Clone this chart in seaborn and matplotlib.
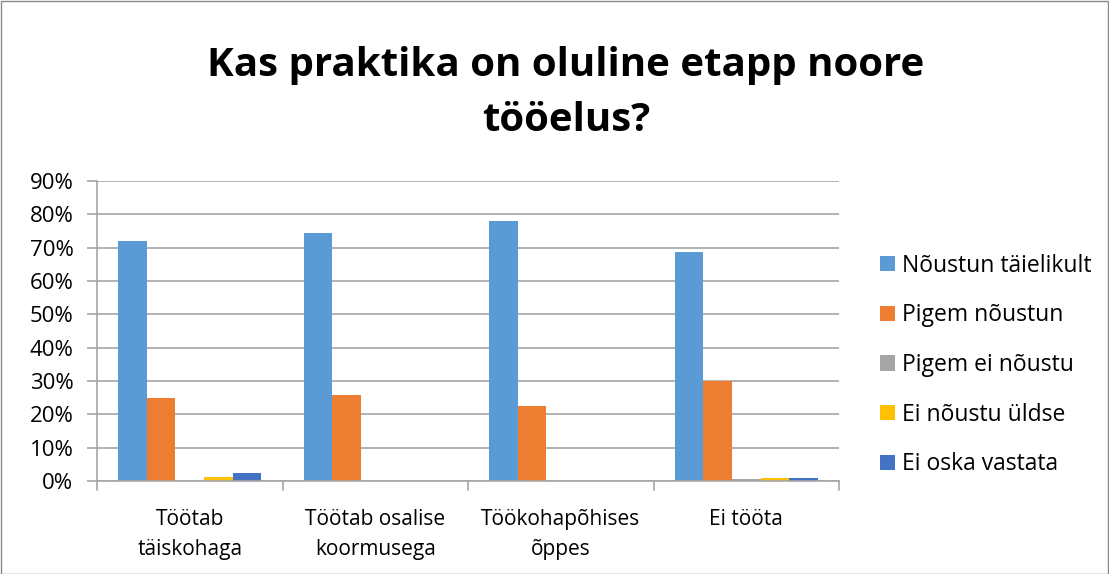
import pandas as pd
import numpy as np
import matplotlib.pyplot as plt
import seaborn as sns
from matplotlib.ticker import PercentFormatter
from matplotlib.patches import Rectangle

# Andmed
kategooriad = ['Töötab\ntäiskohaga', 'Töötab osalise\nkoormusega',
               'Töökohapõhises\nõppes', 'Ei tööta']
vastused = ['Nõustun täielikult', 'Pigem nõustun', 'Pigem ei nõustu',
            'Ei nõustu üldse', 'Ei oska vastata']
noustun_taielikult = [72.0, 74.4, 78.0, 68.6]
pigem_noustun = [24.8, 25.7, 22.4, 29.9]
pigem_ei_noustu = [0.0, 0.0, 0.0, 0.5]
ei_noustu_uldse = [1.1, 0.0, 0.0, 0.8]
ei_oska_vastata = [2.3, 0.0, 0.0, 0.8]

varvid = ['#5B9BD5', '#ED7D31', '#A5A5A5', '#FFC000', '#4472C4']

vaartused = [noustun_taielikult, pigem_noustun, pigem_ei_noustu,
             ei_noustu_uldse, ei_oska_vastata]
rows = []
for v, seeria in zip(vastused, vaartused):
    for k, x in zip(kategooriad, seeria):
        rows.append({'kategooria': k, 'vastus': v, 'protsent': x})
df = pd.DataFrame(rows)

sns.set_style("white", {'text.color': 'black', 'xtick.color': 'black',
                        'ytick.color': 'black'})
plt.rcParams['font.family'] = ['Open Sans', 'DejaVu Sans']

W, H = 1109, 574
fig = plt.figure(figsize=(W / 100, H / 100), dpi=100)
ax = fig.add_axes([97 / W, 1 - 481 / H, (839 - 97) / W, (481 - 181) / H])

sns.barplot(data=df, x='kategooria', y='protsent', hue='vastus',
            hue_order=vastused, order=kategooriad, palette=varvid,
            width=0.77, ax=ax, saturation=1, linewidth=0)

ax.set_ylim(0, 90)
ax.set_yticks(np.arange(0, 91, 10))
ax.yaxis.set_major_formatter(PercentFormatter(decimals=0))
ax.grid(axis='y', color='#A6A6A6', linewidth=1.2)
ax.set_axisbelow(True)
for s in ['top', 'right']:
    ax.spines[s].set_visible(False)
for s in ['left', 'bottom']:
    ax.spines[s].set_color('#A6A6A6')
    ax.spines[s].set_linewidth(1.2)
ax.set_xlabel('')
ax.set_ylabel('')
ax.tick_params(axis='y', labelsize=16, length=7, width=1.2, color='#A6A6A6',
               labelcolor='black', left=True, pad=10)
ax.tick_params(axis='x', labelsize=15, length=0, pad=20, labelcolor='black')
for lab in ax.get_xticklabels():
    lab.set_linespacing(1.6)
# grupipiirid
for xb in [-0.5, 0.5, 1.5, 2.5, 3.5]:
    ax.plot([xb, xb], [0, -0.03], transform=ax.get_xaxis_transform(),
            color='#A6A6A6', lw=1.2, clip_on=False)
ax.set_xlim(-0.5, 3.5)

leg = ax.legend(loc='center left', bbox_to_anchor=(880 / W, 1 - 365 / H),
                bbox_transform=fig.transFigure, frameon=False,
                fontsize=16.5, handlelength=0.65, handleheight=0.65,
                labelspacing=1.12, handletextpad=0.3, borderpad=0, borderaxespad=0)
for t in leg.get_texts():
    t.set_color('black')

fig.text(566 / W, 1 - 76 / H, 'Kas praktika on oluline etapp noore',
         ha='center', va='baseline', fontsize=29, fontweight='bold', color='black')
fig.text(566 / W, 1 - 131 / H, 'tööelus?',
         ha='center', va='baseline', fontsize=29, fontweight='bold', color='black')

fig.patches.append(Rectangle((0.5 / W, 0.5 / H), 1 - 1.5 / W, 1 - 1.5 / H,
                             transform=fig.transFigure,
                             fill=False, edgecolor='#888888', lw=1))

fig.savefig('out.png', dpi=100)
